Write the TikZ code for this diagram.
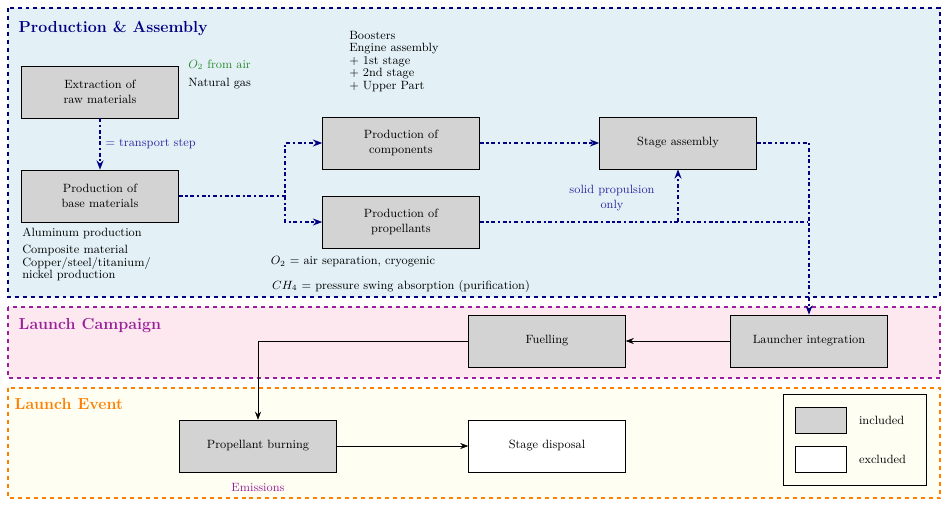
\documentclass[tikz,border=0pt]{standalone}
\usepackage{amsmath}
\usetikzlibrary{positioning,arrows.meta}
\definecolor{paBg}{HTML}{E3F1F7}
\definecolor{lcBg}{HTML}{FDE8EF}
\definecolor{leBg}{HTML}{FEFEF3}
\definecolor{boxGrey}{HTML}{D3D3D3}
\definecolor{noteBlue}{HTML}{2B2BA0}
\definecolor{airGreen}{HTML}{2E8B2E}
\definecolor{lcPurple}{HTML}{9A1F9A}
\newlength{\unitlen}\setlength{\unitlen}{0.0264cm}
\tikzset{
  stepbox/.style={draw, fill=boxGrey, minimum width=157\unitlen, minimum height=52\unitlen, align=center, font=\small, inner sep=1pt},
  exclbox/.style={stepbox, fill=white},
  frame/.style={dashed, thick},
  transport/.style={draw=blue!50!black, ultra thick, dash dot, -{Stealth[length=7pt]}},
  flow/.style={draw, -{Stealth[length=6pt]}},
  note/.style={font=\small, align=left, anchor=west, inner sep=0pt},
}
\begin{document}
\begin{tikzpicture}[x=0.0264cm, y=-0.0264cm, >=stealth]
\useasboundingbox (0,0) rectangle (948,507);

%------------------ FRAMES ------------------%
\draw[frame, draw=blue!50!black, fill=paBg] (8,8) rectangle (940,297);
\draw[frame, draw=lcPurple, fill=lcBg] (8,307) rectangle (940,378);
\draw[frame, draw=orange, fill=leBg] (8,388) rectangle (940,498);
\node[anchor=west, font=\large\bfseries, text=blue!50!black] at (14,28) {Production \& Assembly};
\node[anchor=west, font=\large\bfseries, text=lcPurple] at (14,326) {Launch Campaign};
\node[anchor=west, font=\large\bfseries, text=orange] at (10,404) {Launch Event};

%------------------ STEPS ------------------%
\node[stepbox] (extract) at (100,92) {Extraction of\\raw materials};
\node[stepbox] (base) at (100,196) {Production of\\base materials};
\node[stepbox] (comp) at (401,143) {Production of\\components};
\node[stepbox] (prop) at (401,222) {Production of\\propellants};
\node[stepbox] (stage) at (678,143) {Stage assembly};
\node[stepbox] (integ) at (809,341) {Launcher integration};
\node[stepbox] (fuel) at (547,341) {Fuelling};
\node[stepbox] (burn) at (258,446) {Propellant burning};
\node[exclbox] (disp) at (547,446) {Stage disposal};

% legend
\draw (783,394) rectangle (926,485);
\node[stepbox, minimum width=51\unitlen, minimum height=26\unitlen] (legIn) at (821,420) {};
\node[exclbox, minimum width=51\unitlen, minimum height=26\unitlen] (legEx) at (821,459) {};
\node[note, right=12\unitlen of legIn] {included};
\node[note, right=12\unitlen of legEx] {excluded};

%------------------ NOTES ------------------%
\node[note, text=airGreen] at (188,65) {$O_2$ from air};
\node[note] at (188,84) {Natural gas};
\node[note, anchor=north west, font=\small\linespread{0.85}\selectfont] at (349,31) {Boosters\\Engine assembly\\+ 1st stage\\+ 2nd stage\\+ Upper Part};
\node[note] at (22,233) {Aluminum production};
\node[note, anchor=north west, font=\small\linespread{0.85}\selectfont] at (22,245) {Composite material\\Copper/steel/titanium/\\nickel production};
\node[font=\small] at (353,262) {$O_2$ = air separation, cryogenic};
\node[font=\small] at (401,286) {$CH_4$ = pressure swing absorption (purification)};
\node[font=\small, text=noteBlue, align=center, inner sep=0pt] at (612,198) {solid propulsion\\only};
\node[font=\small, text=lcPurple] at (258,487) {Emissions};

%------------------ TRANSPORT ------------------%
\coordinate (split) at (285,196);
\coordinate (join) at (808,222);
\draw[transport] (extract) -- node[right, font=\small, text=noteBlue] {= transport step} (base);
\draw[transport] (base) -- (split) |- (comp);
\draw[transport] (split) |- (prop);
\draw[transport] (comp) -- (stage);
\draw[transport, -] (prop) -- (join);
\draw[transport] (prop.east -| stage.south) -- (stage.south);
\draw[transport] (stage) -| (integ.north);

%------------------ FLOW ------------------%
\draw[flow] (integ) -- (fuel);
\draw[flow] (fuel) -| (burn);
\draw[flow] (burn) -- (disp);
\end{tikzpicture}
\end{document}
